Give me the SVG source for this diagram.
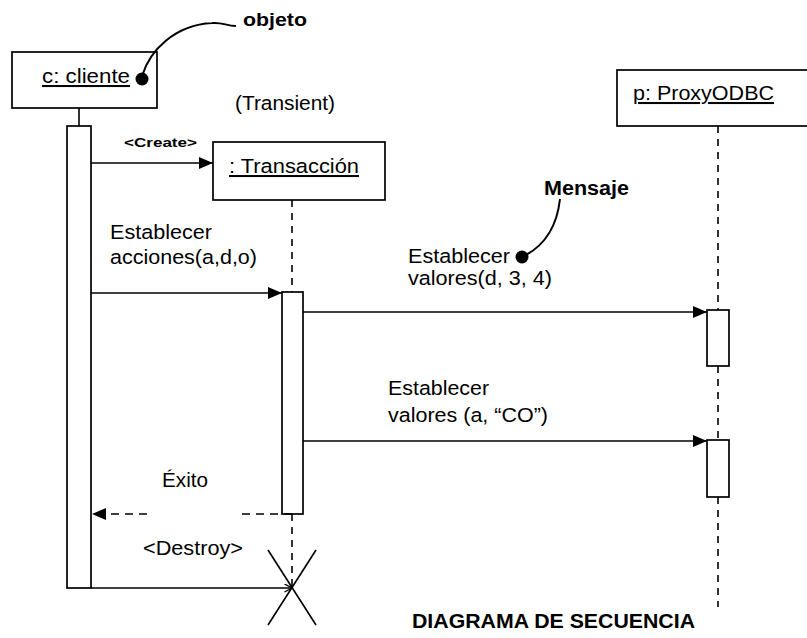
<svg xmlns="http://www.w3.org/2000/svg" width="807" height="638" viewBox="0 0 807 638">
<style>
.box{fill:#fff;stroke:#000;stroke-width:1.7}
.act{fill:#fff;stroke:#000;stroke-width:1.7}
.life{fill:none;stroke:#000;stroke-width:1.6;stroke-dasharray:7 6}
.msg{fill:none;stroke:#000;stroke-width:1.6}
.ret{fill:none;stroke:#000;stroke-width:1.6;stroke-dasharray:8 6}
.t{font-family:"Liberation Sans",Arial,sans-serif;font-size:20.5px;fill:#000}
.b{font-family:"Liberation Sans",Arial,sans-serif;font-weight:bold;fill:#000}
.u{text-decoration:underline}
.note{fill:none;stroke:#000;stroke-width:2}
</style>
<defs>
<marker id="fill" markerUnits="userSpaceOnUse" markerWidth="15" markerHeight="13" refX="14" refY="6" orient="auto">
<path d="M0,0 L14,6 L0,12 z" fill="#000" stroke="none"/>
</marker>
<marker id="open" markerUnits="userSpaceOnUse" markerWidth="10" markerHeight="10" refX="8" refY="4.5" orient="auto">
<path d="M0.5,0.5 L8,4.5 L0.5,8.5" fill="none" stroke="#000" stroke-width="1.4" stroke-dasharray="none"/>
</marker>
</defs>

<g id="cliente">
<rect class="box" x="12" y="52" width="145" height="56"/>
<text class="t u" x="42" y="83" font-size="21" textLength="88" lengthAdjust="spacingAndGlyphs">c: cliente</text>
<line class="msg" x1="79" y1="108" x2="79" y2="126"/>
<rect class="act" x="67" y="126" width="24" height="462"/>
</g>

<g id="transaccion">
<rect class="box" x="213" y="142" width="172" height="58"/>
<text class="t u" x="229" y="173" font-size="21" textLength="130" lengthAdjust="spacingAndGlyphs">: Transacción</text>
<line class="life" x1="292" y1="200" x2="292" y2="292"/>
<line class="life" x1="292" y1="514" x2="292" y2="587"/>
<rect class="act" x="282" y="292" width="21" height="222"/>
<line class="msg" x1="268" y1="550" x2="316" y2="625"/>
<line class="msg" x1="316" y1="550" x2="268" y2="625"/>
</g>

<g id="proxy">
<rect class="box" x="617" y="70" width="200" height="56"/>
<text class="t u" x="633" y="100" font-size="21" textLength="141" lengthAdjust="spacingAndGlyphs">p: ProxyODBC</text>
<line class="life" x1="718" y1="126" x2="718" y2="310"/>
<line class="life" x1="718" y1="366" x2="718" y2="440"/>
<line class="life" x1="718" y1="497" x2="718" y2="607"/>
<rect class="act" x="707" y="310" width="22" height="56"/>
<rect class="act" x="707" y="440" width="22" height="57"/>
</g>

<g id="connectors">
<path class="msg" d="M91 163 H213" marker-end="url(#fill)"/>
<path class="msg" d="M91 293 H282" marker-end="url(#fill)"/>
<path class="msg" d="M303 312 H707" marker-end="url(#fill)"/>
<path class="msg" d="M303 441 H707" marker-end="url(#fill)"/>
<path class="ret" d="M292 514 H242"/>
<path class="ret" d="M147 514 H92" marker-end="url(#fill)"/>
<path class="msg" d="M91 588 H292" marker-end="url(#open)"/>
</g>

<g id="labels">
<text class="b" x="124" y="147" font-size="13.5" textLength="73" lengthAdjust="spacingAndGlyphs">&lt;Create&gt;</text>
<text class="t" x="235" y="110" textLength="100" lengthAdjust="spacingAndGlyphs">(Transient)</text>
<text class="t" x="110" y="239" textLength="102" lengthAdjust="spacingAndGlyphs">Establecer</text>
<text class="t" x="110" y="264" textLength="147" lengthAdjust="spacingAndGlyphs">acciones(a,d,o)</text>
<text class="t" x="408" y="263" textLength="102" lengthAdjust="spacingAndGlyphs">Establecer</text>
<text class="t" x="408" y="285" textLength="144" lengthAdjust="spacingAndGlyphs">valores(d, 3, 4)</text>
<text class="t" x="388" y="395" textLength="101" lengthAdjust="spacingAndGlyphs">Establecer</text>
<text class="t" x="388" y="422" textLength="160" lengthAdjust="spacingAndGlyphs">valores (a, “CO”)</text>
<text class="t" x="162" y="487" textLength="46" lengthAdjust="spacingAndGlyphs">Éxito</text>
<text class="t" x="143" y="555" textLength="100" lengthAdjust="spacingAndGlyphs">&lt;Destroy&gt;</text>
</g>

<g id="notes">
<path class="note" d="M142 76 C150 50, 175 25, 212 23 C223 22, 226 26, 236 26"/>
<circle cx="142" cy="79" r="6.5" fill="#000"/>
<text class="b" x="243" y="26" font-size="19" textLength="64" lengthAdjust="spacingAndGlyphs">objeto</text>
<path class="note" d="M526 255 C546 244, 557 226, 560 199"/>
<circle cx="522" cy="257" r="6.5" fill="#000"/>
<text class="b" x="544" y="195" font-size="20" textLength="85" lengthAdjust="spacingAndGlyphs">Mensaje</text>
<text class="b" x="412" y="628" font-size="21" textLength="283" lengthAdjust="spacingAndGlyphs">DIAGRAMA DE SECUENCIA</text>
</g>
</svg>
